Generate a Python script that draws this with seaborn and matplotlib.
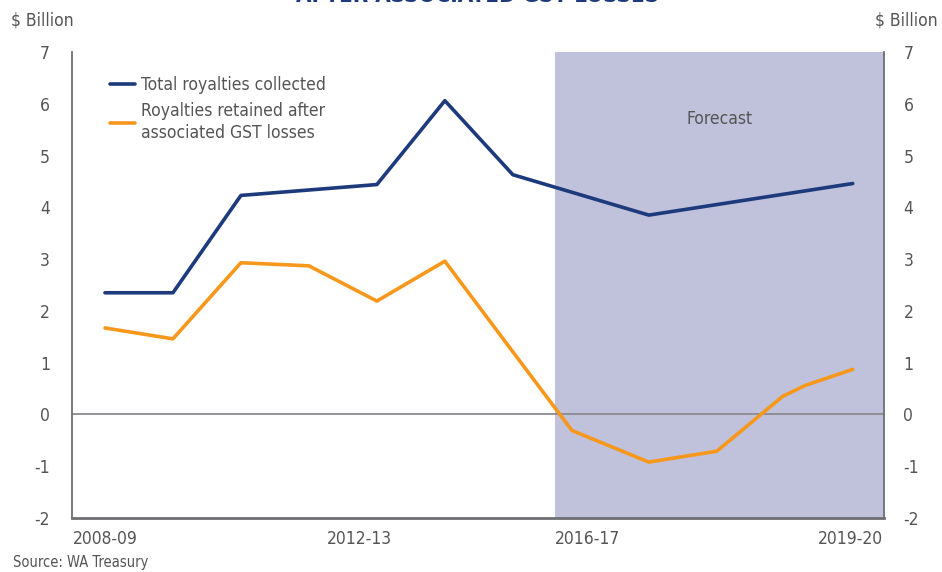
import pandas as pd
import numpy as np
import matplotlib
matplotlib.use('Agg')
import matplotlib.pyplot as plt
import seaborn as sns

# Data ($ billion), x = years since 2008-09
total_x = [0, 1, 2, 4, 5, 6, 8, 11]
total_y = [2.35, 2.35, 4.23, 4.44, 6.06, 4.63, 3.85, 4.46]

retained_x = [0, 1, 2, 3, 4, 5, 6, 6.87, 8, 9, 9.97, 10.3, 11]
retained_y = [1.67, 1.46, 2.93, 2.87, 2.19, 2.96, 1.21, -0.31, -0.92, -0.71, 0.35, 0.56, 0.87]

tick_pos = [0, 3.75, 7.1, 10.97]
tick_labels = ['2008-09', '2012-13', '2016-17', '2019-20']
forecast_start = 6.62

navy = '#1D3A7C'
orange = '#F7981D'
shade = '#BFC2DA'
grey = '#555555'
axis_grey = '#6E6E73'

sns.set_style('white')
plt.rcParams['font.family'] = ['DejaVu Sans']
plt.rcParams['font.stretch'] = 'condensed'
plt.rcParams['axes.unicode_minus'] = False

fs = 12.5

fig = plt.figure(figsize=(9.42, 5.72), dpi=100)
ax = fig.add_axes([72 / 942, 1 - 518 / 572, (884 - 72) / 942, (518 - 52) / 572])

xmin, xmax = -0.485, 11.46
ax.axvspan(forecast_start, xmax, color=shade, lw=0, zorder=0)
ax.axhline(0, color='#8A8A90', lw=1.3, zorder=1)

df_total = pd.DataFrame({'x': total_x, 'y': total_y})
df_ret = pd.DataFrame({'x': retained_x, 'y': retained_y})
sns.lineplot(data=df_total, x='x', y='y', ax=ax, color=navy, lw=2.6,
             label='Total royalties collected', zorder=3)
sns.lineplot(data=df_ret, x='x', y='y', ax=ax, color=orange, lw=2.6,
             label='Royalties retained after\nassociated GST losses', zorder=3)

ax.set_xlim(xmin, xmax)
ax.set_ylim(-2, 7)
ax.set_yticks(range(-2, 8))
ax.set_xticks(tick_pos)
ax.set_xticklabels(tick_labels)
ax.set_xlabel('')
ax.set_ylabel('')
ax.tick_params(axis='x', length=0, labelsize=fs, colors=grey, pad=9)
ax.tick_params(axis='y', length=0, labelsize=fs, colors=grey, pad=16)

for s in ['left', 'right', 'bottom']:
    ax.spines[s].set_color(axis_grey)
    ax.spines[s].set_linewidth(1.3)
ax.spines['bottom'].set_linewidth(2)
ax.spines['top'].set_visible(False)

ax2 = ax.twinx()
ax2.set_ylim(-2, 7)
ax2.set_yticks(range(-2, 8))
ax2.tick_params(axis='y', length=0, labelsize=fs, colors=grey, pad=14)
for s in ax2.spines.values():
    s.set_visible(False)

leg = ax.legend(loc='upper left', bbox_to_anchor=(0.027, 0.982), frameon=False,
                fontsize=fs, handlelength=1.45, handletextpad=0.35,
                labelspacing=0.45)
for t in leg.get_texts():
    t.set_color(grey)
    t.set_linespacing(1.3)

ax.text(9.04, 5.71, 'Forecast', ha='center', va='center', fontsize=fs, color=grey)

fig.text(42 / 942, 1 - 20 / 572, '$ Billion', ha='center', va='center', fontsize=fs, color=grey)
fig.text(938 / 942, 1 - 20 / 572, '$ Billion', ha='right', va='center', fontsize=fs, color=grey)
fig.text(478 / 942, 1 + 4 / 572, 'AFTER ASSOCIATED GST LOSSES', ha='center', va='center',
         fontsize=16, fontweight='bold', color=navy)
fig.text(13 / 942, 1 - 563 / 572, 'Source: WA Treasury', ha='left', va='center',
         fontsize=10.5, color=grey)

fig.savefig('out.png', dpi=100)
